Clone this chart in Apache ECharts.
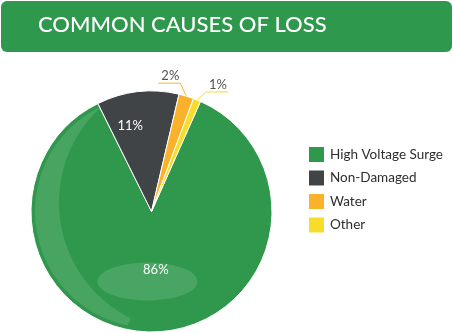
<!DOCTYPE html>
<html>
<head>
<meta charset="utf-8">
<script src="https://cdn.jsdelivr.net/npm/echarts@6/dist/echarts.min.js"></script>
<style>
  html, body { margin: 0; padding: 0; background: #ffffff; }
  #chart { width: 453px; height: 333px; }
</style>
</head>
<body>
<div id="chart"></div>
<script>
// Loss causes and their shares (percent)
var categories = ['High Voltage Surge', 'Non-Damaged', 'Water', 'Other'];
var shares = [86, 11, 2, 1];
var sliceColors = ['#2f984c', '#404446', '#fbb22b', '#f7dc2a'];
var titleText = 'COMMON CAUSES OF LOSS';

// Pie geometry
var cx = 151.5, cy = 211.5, R = 120.5;
var FONT = 'Lato, "Noto Sans", sans-serif';

var chart = echarts.init(document.getElementById('chart'), null, { renderer: 'canvas' });

// Light crescent on the left of the pie: outer arc along the rim, inner arc of a larger circle offset to the right
function crescentPoints() {
  var rOut = R - 4;
  var pts = [];
  var i, a;
  var a1 = -25, a2 = -168;           // degrees from vertical, clockwise positive
  for (i = 0; i <= 40; i++) {
    a = (a1 + (a2 - a1) * i / 40) * Math.PI / 180;
    pts.push([cx + rOut * Math.sin(a), cy - rOut * Math.cos(a)]);
  }
  var p1 = pts[0], p2 = pts[pts.length - 1];
  var ic = [cx + 37, cy - 9];
  var rIn = Math.hypot(p1[0] - ic[0], p1[1] - ic[1]);
  var b1 = Math.atan2(p2[1] - ic[1], p2[0] - ic[0]);
  var b2 = Math.atan2(p1[1] - ic[1], p1[0] - ic[0]);
  if (b2 < b1) b2 += 2 * Math.PI;
  for (i = 0; i <= 40; i++) {
    a = b1 + (b2 - b1) * i / 40;
    pts.push([ic[0] + rIn * Math.cos(a), ic[1] + rIn * Math.sin(a)]);
  }
  return pts;
}

function ellipsePoints(ex, ey, rx, ry) {
  var pts = [];
  for (var i = 0; i < 60; i++) {
    var a = i / 60 * 2 * Math.PI;
    pts.push([ex + rx * Math.cos(a), ey + ry * Math.sin(a)]);
  }
  return pts;
}

var data = categories.map(function (name, i) {
  return { name: name, value: shares[i], itemStyle: { color: sliceColors[i] } };
});

var option = {
  animation: false,
  graphic: [
    {
      type: 'rect', left: 1, top: 1, z: 0,
      shape: { width: 451, height: 51, r: 6 },
      style: { fill: '#2e984c' }
    },
    {
      type: 'text', left: 38, top: 14, z: 1,
      style: { text: titleText, fill: '#ffffff', font: '500 22px ' + FONT }
    },
    {
      type: 'polygon', z: 10, silent: true,
      shape: { points: crescentPoints() },
      style: { fill: 'rgba(255,255,255,0.12)' }
    },
    {
      type: 'polygon', z: 10, silent: true,
      shape: { points: ellipsePoints(cx - 4, cy + 70, 50, 19) },
      style: { fill: 'rgba(255,255,255,0.13)' }
    }
  ],
  legend: {
    orient: 'vertical',
    left: 302,
    top: 140,
    icon: 'rect',
    itemWidth: 17,
    itemHeight: 17,
    itemGap: 4.5,
    data: categories,
    textStyle: { fontFamily: FONT, fontSize: 13.5, color: '#2e2e2e', padding: [0, 0, 0, 0] }
  },
  series: [{
    type: 'pie',
    center: [cx, cy],
    radius: R,
    startAngle: 66,
    clockwise: true,
    avoidLabelOverlap: false,
    itemStyle: { borderColor: '#ffffff', borderWidth: 1 },
    label: {
      show: true,
      fontFamily: FONT,
      fontSize: 13,
      formatter: '{c}%'
    },
    labelLine: { show: false },
    labelLayout: function (p) {
      var lp = p.labelLinePoints;
      if (p.dataIndex === 0) {
        return { dx: 3, dy: -5 };
      }
      if (p.dataIndex === 1) {
        return { dx: -14, dy: -23 };
      }
      if (p.dataIndex === 2 && lp) {
        var s = lp[0];
        var m = [s[0] - 6, s[1] - 13];
        var e = [m[0] - 22, m[1]];
        return { x: (m[0] + e[0]) / 2 + 1, y: m[1] - 1, align: 'center', verticalAlign: 'bottom', labelLinePoints: [s, m, e] };
      }
      if (p.dataIndex === 3 && lp) {
        var s2 = lp[0];
        var m2 = [s2[0] + 9, s2[1] - 8];
        var e2 = [m2[0] + 22, m2[1]];
        return { x: (m2[0] + e2[0]) / 2 + 1, y: m2[1] - 1, align: 'center', verticalAlign: 'bottom', labelLinePoints: [s2, m2, e2] };
      }
      return {};
    },
    data: data.map(function (d, i) {
      var outside = i >= 2;
      return Object.assign({}, d, {
        label: outside
          ? { position: 'outside', color: '#555555', fontSize: 13 }
          : { position: 'inside', color: '#ffffff' },
        labelLine: outside
          ? { show: true, length: 12, length2: 22, lineStyle: { color: sliceColors[i], width: 1 } }
          : { show: false }
      });
    })
  }]
};

chart.setOption(option);
</script>
</body>
</html>
